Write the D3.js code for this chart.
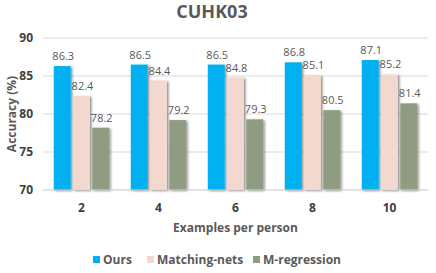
<!DOCTYPE html>
<html>
<head>
<meta charset="utf-8">
<script src="https://cdn.jsdelivr.net/npm/d3@7"></script>
<style>
  body { margin: 0; background: #fff; }
  text { font-family: "Open Sans", "Noto Sans", sans-serif; }
</style>
</head>
<body>
<script>
// chart data
var categories = ["2", "4", "6", "8", "10"];
var seriesNames = ["Ours", "Matching-nets", "M-regression"];
var ours = [86.3, 86.5, 86.5, 86.8, 87.1];
var matchingNets = [82.4, 84.4, 84.8, 85.1, 85.2];
var mRegression = [78.2, 79.2, 79.3, 80.5, 81.4];
var yTicks = [70, 75, 80, 85, 90];
var colors = ["#00b0f0", "#f2d8ce", "#8f9c82"];

var seriesValues = [ours, matchingNets, mRegression];

var width = 436, height = 273;
var margin = {top: 38, right: 8, bottom: 83, left: 43};

var svg = d3.select("body").append("svg")
    .attr("width", width)
    .attr("height", height);

var defs = svg.append("defs");
var filter = defs.append("filter").attr("id", "shadow")
    .attr("x", "-20%").attr("y", "-10%").attr("width", "150%").attr("height", "130%");
filter.append("feDropShadow")
    .attr("dx", 1.5).attr("dy", 1).attr("stdDeviation", 0.8)
    .attr("flood-color", "#000").attr("flood-opacity", 0.45);

//scales
var x0 = d3.scaleBand()
    .domain(categories)
    .range([margin.left, width - margin.right])
    .paddingInner(0.22)
    .paddingOuter(0.11);

var x1 = d3.scaleBand()
    .domain(seriesNames)
    .range([0, x0.bandwidth()])
    .padding(0.12);

var y = d3.scaleLinear()
    .domain([70, 90])
    .range([height - margin.bottom, margin.top]);

// gridlines
svg.append("g").selectAll("line")
    .data(yTicks)
    .join("line")
    .attr("x1", margin.left)
    .attr("x2", width - margin.right)
    .attr("y1", d => y(d))
    .attr("y2", d => y(d))
    .attr("stroke", "#d9d9d9")
    .attr("stroke-width", 1);

// y tick labels
var yAxis = svg.append("g")
    .attr("transform", "translate(" + margin.left + ",0)")
    .call(d3.axisLeft(y).tickValues(yTicks).tickSize(0).tickPadding(10));
yAxis.select(".domain").remove();
yAxis.selectAll("text")
    .style("font-size", "12px")
    .style("font-weight", "bold")
    .attr("fill", "#404040");

// x tick labels
var xAxis = svg.append("g")
    .attr("transform", "translate(0," + (height - margin.bottom) + ")")
    .call(d3.axisBottom(x0).tickSize(0).tickPadding(13));
xAxis.select(".domain").remove();
xAxis.selectAll("text")
    .style("font-size", "12px")
    .style("font-weight", "bold")
    .attr("fill", "#404040");

//bars
var groups = svg.append("g").selectAll("g")
    .data(categories)
    .join("g")
    .attr("transform", d => "translate(" + x0(d) + ",0)");

groups.selectAll("rect")
    .data((d, i) => seriesNames.map((s, j) => ({series: s, value: seriesValues[j][i], idx: j})))
    .join("rect")
    .attr("x", d => x1(d.series))
    .attr("y", d => y(d.value))
    .attr("width", x1.bandwidth())
    .attr("height", d => y(70) - y(d.value))
    .attr("fill", d => colors[d.idx])
    .attr("filter", "url(#shadow)");

groups.selectAll("text.val")
    .data((d, i) => seriesNames.map((s, j) => ({series: s, value: seriesValues[j][i]})))
    .join("text")
    .attr("class", "val")
    .attr("x", d => x1(d.series) + x1.bandwidth() / 2 + 1)
    .attr("y", d => y(d.value) - 6)
    .attr("text-anchor", "middle")
    .style("font-size", "11px")
    .attr("fill", "#595959")
    .text(d => d.value.toFixed(1));

// redraw baseline over bars
svg.append("line")
    .attr("x1", margin.left).attr("x2", width - margin.right)
    .attr("y1", y(70)).attr("y2", y(70))
    .attr("stroke", "#d9d9d9");

//title
svg.append("text")
    .attr("x", 212)
    .attr("y", 18)
    .attr("text-anchor", "middle")
    .style("font-size", "18px")
    .style("font-weight", "bold")
    .attr("fill", "#595959")
    .text("CUHK03");

// axis titles
svg.append("text")
    .attr("x", (margin.left + width - margin.right) / 2)
    .attr("y", 232)
    .attr("text-anchor", "middle")
    .style("font-size", "12px")
    .style("font-weight", "bold")
    .attr("fill", "#595959")
    .text("Examples per person");

svg.append("text")
    .attr("transform", "translate(16," + y(80) + ") rotate(-90)")
    .attr("text-anchor", "middle")
    .style("font-size", "12px")
    .style("font-weight", "bold")
    .attr("fill", "#595959")
    .text("Accuracy (%)");

//legend
var legendX = [93, 147, 253];
var legend = svg.append("g").selectAll("g")
    .data(seriesNames)
    .join("g")
    .attr("transform", (d, i) => "translate(" + legendX[i] + ",256)");
legend.append("rect")
    .attr("width", 7).attr("height", 7)
    .attr("fill", (d, i) => colors[i]);
legend.append("text")
    .attr("x", 10)
    .attr("y", 7.5)
    .style("font-size", "12px")
    .style("font-weight", "bold")
    .attr("fill", "#595959")
    .text(d => d);
</script>
</body>
</html>
